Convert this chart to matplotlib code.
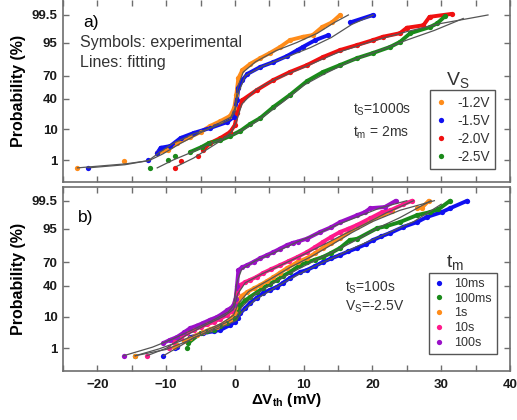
from statistics import NormalDist
import numpy as np
import matplotlib
matplotlib.use("Agg")
import matplotlib.pyplot as plt
from matplotlib.ticker import FixedLocator, MultipleLocator, NullLocator

plt.rcParams['font.family'] = ['Liberation Sans', 'DejaVu Sans']
plt.rcParams['mathtext.default'] = 'regular'

# ---------------- panel a) : t_S = 1000 s, t_m = 2 ms, several V_S ----------------
a_labels = ['-1.2V', '-1.5V', '-2.0V', '-2.5V']
a_colors = ['#FF8C1A', '#1010F0', '#F01010', '#1A8A1A']

a_x = [
    [-22.9, -16.2, -11.3, -9.8, -8.4, -6.5, -5.0, -3.6, -2.1, -0.7, -0.1, 0.2, 0.5, 1.1, 2.2, 3.7,
     5.1, 6.6, 8.0, 9.9, 11.3, 12.7, 14.1, 15.3],
    [-21.4, -12.6, -11.3, -10.8, -9.4, -7.9, -6.0, -3.6, -1.1, -0.2, 0.3, 0.5, 1.1, 1.8, 3.7, 5.6,
     7.6, 9.1, 9.9, 11.7, 13.6, 16.8, 20.1],
    [-8.7, -7.9, -5.3, -4.6, -3.6, -2.1, -0.7, 0.0, 0.3, 1.1, 3.2, 5.6, 8.0, 10.5, 12.8, 15.3,
     17.8, 20.1, 21.5, 24.0, 25.0, 27.4, 28.3, 31.5],
    [-12.4, -9.8, -8.7, -6.5, -4.8, -3.8, -2.1, -0.7, 0.8, 2.2, 3.7, 5.6, 8.0, 10.5, 12.8, 15.3,
     17.8, 20.1, 22.6, 24.0, 25.5, 28.4, 29.4, 30.6],
]
a_p = [
    [0.48, 0.95, 1.85, 2.36, 4.0, 6.1, 8.4, 12.0, 15.7, 20.2, 28.6, 45, 67, 76.4, 82.1, 86.9,
     90.2, 93.3, 95.8, 96.7, 97.1, 98.5, 99.0, 99.5],
    [0.48, 1.0, 1.85, 2.8, 3.2, 5.7, 7.9, 10.7, 14.9, 19.2, 38.4, 54.4, 64.8, 72, 79.4, 83.8,
     88.3, 91.8, 93.3, 95.8, 97.1, 99.0, 99.5],
    [0.48, 0.92, 1.43, 2.36, 4.0, 5.7, 8.4, 12.7, 23.1, 38.4, 51.7, 64.8, 74.2, 81.2, 87.6, 91.8,
     94.1, 95.8, 96.7, 97.5, 98.4, 98.7, 99.4, 99.55],
    [0.48, 1.0, 1.43, 2.0, 3.0, 4.0, 4.9, 6.5, 9.0, 13.4, 18.3, 29.7, 45, 63.5, 74.2, 81.2,
     86.9, 90.2, 93.3, 95.2, 97.5, 98.5, 98.9, 99.45],
]
# fitting lines
a_fit_x = [
    [-22.9, -16, -12.5, -10.5, -8, -5, -2.5, -0.6, 0, 0.4, 1.2, 3, 6, 9, 12, 14.5, 16.5],
    [-21.4, -16, -12.6, -11, -9, -6, -3, -0.8, 0, 0.4, 1.5, 4, 8, 11, 14, 17, 20.1],
    [-8.5, -6, -4, -2, -0.5, 0.2, 1, 3, 6, 10, 15, 20, 25, 30, 34, 36.8],
    [-11.3, -9, -6, -3, 0, 2, 4, 7, 10, 13, 17, 21, 25, 29, 33.2],
]
a_fit_p = [
    [0.48, 0.7, 0.95, 1.7, 3.8, 8, 13.5, 19, 28, 55, 74, 84, 91.5, 95, 97.5, 99.0, 99.5],
    [0.48, 0.65, 0.95, 1.9, 3.9, 7.5, 11.5, 16.5, 24, 45, 70, 80, 88.5, 93, 96.5, 98.8, 99.5],
    [0.55, 1.2, 2.5, 4.8, 8.5, 15, 33, 52, 66, 79, 90.5, 95.5, 97.8, 98.9, 99.3, 99.5],
    [0.48, 1.0, 2.1, 4.3, 7.5, 11.5, 19, 36, 58, 72, 85, 91.5, 95.8, 98.0, 99.3],
]

# ---------------- panel b) : t_S = 100 s, V_S = -2.5 V, several t_m ----------------
b_labels = ['10ms', '100ms', '1s', '10s', '100s']
b_colors = ['#1010F0', '#1A8A1A', '#FF8C1A', '#FF1A8C', '#9A10C8']

b_x = [
    [-10.4, -8.7, -8.4, -6.5, -4.6, -3.1, -2.1, -0.7, 0.0, 0.4, 0.8, 1.5, 2.2, 3.2, 4.1, 5.1, 6.1,
     7.0, 8.0, 9.5, 10.5, 11.6, 12.8, 14.0, 15.3, 16.5, 17.8, 19.0, 20.1, 21.3, 22.6, 24.5, 26.5,
     27.9, 30.1, 31.3, 33.8],
    [-14.5, -6.9, -6.8, -5.0, -4.0, -3.1, -2.1, -1.1, 0.0, 0.4, 0.8, 1.5, 2.2, 3.2, 4.1, 5.1, 6.1,
     7.0, 8.0, 9.5, 10.5, 11.6, 12.8, 14.0, 15.3, 16.7, 17.8, 20.7, 22.0, 24.0, 26.5, 28.4, 29.6,
     31.3],
    [-14.5, -8.9, -8.4, -7.4, -6.5, -5.5, -4.6, -3.6, -2.6, -1.6, -0.7, 0.0, 0.5, 1.0, 1.8, 2.8,
     3.7, 4.7, 5.6, 6.6, 7.6, 9.1, 10.5, 11.6, 12.8, 14.0, 15.3, 17.8, 19.7, 21.6, 22.8, 26.5,
     27.2, 28.2],
    [-12.8, -9.6, -8.9, -7.9, -6.9, -6.0, -5.0, -4.0, -3.1, -2.1, -1.1, -0.4, 0.0, 0.3, 0.8, 1.5,
     2.2, 3.2, 4.1, 5.3, 6.6, 7.8, 9.1, 10.5, 11.6, 12.8, 14.0, 15.3, 16.5, 17.8, 19.7, 21.4, 22.6,
     24.5, 25.8],
    [-16.2, -10.4, -9.5, -8.4, -7.4, -6.5, -5.5, -4.6, -3.6, -2.6, -1.8, -1.1, -0.5, -0.2, 0.1,
     0.3, 0.5, 1.0, 1.8, 2.8, 3.7, 4.7, 5.6, 6.6, 7.6, 8.4, 9.1, 10.5, 12.4, 14.0, 15.3, 17.8,
     18.9, 19.7, 21.8, 23.4],
]
b_p = [
    [0.5, 1.0, 1.1, 2.5, 3.4, 3.9, 4.3, 6.0, 7.3, 9.5, 12.4, 16, 20.5, 26, 31.2, 35, 38.6, 44, 50.4,
     58.2, 60.8, 65.5, 70.5, 74.5, 78, 81.3, 84.3, 87, 89.8, 91.8, 93.4, 95.6, 96.9, 97.9, 98.6,
     99.0, 99.5],
    [0.5, 1.0, 1.57, 3.4, 3.9, 4.3, 5.5, 6.9, 9.3, 13, 18.7, 23, 26.7, 32, 37.3, 42.5, 47.7, 53,
     58.2, 67, 70, 73, 76, 80, 84.3, 89.8, 90.5, 95.2, 95.8, 96.9, 98.2, 98.6, 98.9, 99.5],
    [0.5, 1.1, 1.33, 1.8, 2.36, 3.0, 3.7, 4.5, 5.3, 6.7, 8.3, 12.4, 23.5, 28, 32.4, 37, 41.1, 46.5,
     51.6, 57.5, 63.3, 70.5, 74.9, 79.5, 84.3, 87.8, 90.9, 95.6, 97.3, 98.3, 98.7, 99.0, 99.05,
     99.5],
    [0.5, 1.0, 1.7, 2.4, 3.4, 4.3, 5.3, 6.3, 7.3, 9, 11.1, 14, 20.6, 31.2, 41.1, 45, 47.7, 52, 56.9,
     62, 67, 71.5, 76, 80.8, 84.8, 88.6, 91.5, 93.8, 95, 96.2, 97.7, 98.6, 98.8, 99.3, 99.5],
    [0.5, 1.57, 2.0, 2.56, 3.6, 4.9, 5.8, 6.9, 8.4, 9.9, 12, 14.6, 16.5, 18.7, 25, 40, 60.5, 64, 67,
     71, 74.9, 78, 80.8, 83.8, 86.5, 88, 88.8, 90.6, 93.8, 95.5, 96.9, 98.2, 98.6, 99.0, 99.1,
     99.5],
]
b_fit_x = [
    [-10.4, -8, -6, -3, -1, 0.2, 1, 3, 6, 9, 12, 15, 18, 22, 26, 30],
    [-14.5, -10, -7, -4, -1, 0.2, 1, 3, 6, 9, 12, 15, 18, 21, 24, 28.5],
    [-14.5, -11, -8, -5, -2, -0.2, 0.5, 2, 5, 8, 11, 14, 17, 20, 24, 29],
    [-12.8, -10, -7, -4, -1.5, -0.2, 0.4, 1.5, 4, 7, 10, 13, 16, 19, 22, 26],
    [-16.2, -12, -9, -6, -3, -1, -0.2, 0.3, 1, 3, 6, 9, 12, 15, 18, 21, 25],
]
b_fit_p = [
    [0.5, 1.2, 2.4, 4.3, 6.3, 8, 13, 24, 38.5, 54, 67, 77.5, 86, 93, 97, 99.3],
    [0.5, 0.9, 1.8, 3.8, 7.5, 10, 17, 30, 46, 61, 73.5, 83, 90.5, 95.5, 97.8, 99.5],
    [0.5, 0.95, 1.8, 3.5, 6.6, 11, 20, 33, 48, 64, 76, 86.5, 93.5, 97, 98.8, 99.5],
    [0.5, 1.0, 3, 6.3, 10.5, 15, 30, 44, 56, 68, 78.5, 87, 93, 96.5, 98.5, 99.5],
    [0.5, 1.1, 2.2, 4.5, 8.5, 13, 18, 45, 62, 72, 81, 88.5, 93, 96.3, 98, 99, 99.5],
]

prob_ticks = [1, 10, 40, 70, 95, 99.5]
prob_ticklabels = ['1', '10', '40', '70', '95', '99.5']

# normal probability scale (percent)
_nd = NormalDist()
_ppf = np.vectorize(_nd.inv_cdf, otypes=[float])
_cdf = np.vectorize(_nd.cdf, otypes=[float])


def to_z(p):
    p = np.clip(np.asarray(p, dtype=float) / 100.0, 1e-9, 1 - 1e-9)
    return _ppf(p)


def from_z(z):
    return _cdf(np.asarray(z, dtype=float)) * 100.0


SPINE = '#6E6E6E'


def style_axis(ax, ylim, show_xlabels):
    ax.set_yscale('function', functions=(to_z, from_z))
    ax.set_xlim(-25, 40)
    ax.set_ylim(*ylim)
    ax.yaxis.set_major_locator(FixedLocator(prob_ticks))
    ax.set_yticklabels(prob_ticklabels)
    ax.yaxis.set_minor_locator(NullLocator())
    ax.xaxis.set_major_locator(MultipleLocator(10))
    ax.xaxis.set_minor_locator(MultipleLocator(5))
    for s in ax.spines.values():
        s.set_color(SPINE)
        s.set_linewidth(1.2)
    ax.tick_params(which='both', direction='in', top=True, right=True, color=SPINE,
                   width=1.0, labelsize=9.5, labelcolor='#1a1a1a')
    ax.tick_params(which='major', length=4)
    ax.tick_params(which='minor', length=4)
    ax.tick_params(axis='y', pad=4)
    ax.tick_params(axis='x', pad=6, labelbottom=show_xlabels)
    for lab in ax.get_xticklabels() + ax.get_yticklabels():
        lab.set_fontweight('bold')
    ax.set_ylabel('Probability (%)', fontsize=11.5, fontweight='bold', labelpad=4)


def draw_series(ax, xs, ps, color, label):
    # dense runs of symbols are drawn as a thick band, sparse tail symbols stay separate
    xs = np.asarray(xs, float)
    ps = np.asarray(ps, float)
    pts = ax.transData.transform(np.column_stack([xs, ps]))
    gaps = np.hypot(*np.diff(pts, axis=0).T)
    joined = (gaps < 24) & (ps[:-1] >= 1.5)
    for i in np.flatnonzero(joined):
        ax.plot(xs[i:i + 2], ps[i:i + 2], color=color, lw=2.8,
                solid_capstyle='round', zorder=2)
    ax.plot(xs, ps, 'o', color=color, ms=3.8, mew=0, zorder=3, label=label)


def draw_fit(ax, xs, ps):
    ax.plot(xs, ps, color='#555555', lw=0.9, zorder=4)


fig = plt.figure(figsize=(5.17, 4.2), dpi=100)
ax_a = fig.add_axes([63 / 517, 1 - 182 / 420, 447 / 517, 182 / 420])
ax_b = fig.add_axes([63 / 517, 1 - 371 / 420, 447 / 517, 184 / 420])

style_axis(ax_a, (0.108, 99.897), False)
style_axis(ax_b, (0.1028, 99.878), True)
ax_a.spines['top'].set_visible(False)
ax_b.set_xlabel('ΔV$_{th}$ (mV)', fontsize=11, fontweight='bold', labelpad=0)

for xs, ps, c, lab in zip(a_x, a_p, a_colors, a_labels):
    draw_series(ax_a, xs, ps, c, lab)
for xs, ps in zip(a_fit_x, a_fit_p):
    draw_fit(ax_a, xs, ps)

for xs, ps, c, lab in zip(b_x, b_p, b_colors, b_labels):
    draw_series(ax_b, xs, ps, c, lab)
for xs, ps in zip(b_fit_x, b_fit_p):
    draw_fit(ax_b, xs, ps)

# annotations panel a
ax_a.text(0.045, 0.879, 'a)', transform=ax_a.transAxes, fontsize=12.5, va='center')
ax_a.text(0.038, 0.764, 'Symbols: experimental', transform=ax_a.transAxes, fontsize=11.5,
          va='center', color='#333333')
ax_a.text(0.038, 0.654, 'Lines: fitting', transform=ax_a.transAxes, fontsize=11.5,
          va='center', color='#333333')
ax_a.text(0.649, 0.396, 't$_S$=1000s', transform=ax_a.transAxes, fontsize=10, va='center',
          color='#333333')
ax_a.text(0.649, 0.269, 't$_m$ = 2ms', transform=ax_a.transAxes, fontsize=10, va='center',
          color='#333333')
ax_a.text(0.884, 0.56, 'V$_S$', transform=ax_a.transAxes, fontsize=14, ha='center',
          va='center', color='#333333')

# annotations panel b
ax_b.text(0.034, 0.832, 'b)', transform=ax_b.transAxes, fontsize=12.5, va='center')
ax_b.text(0.631, 0.451, 't$_S$=100s', transform=ax_b.transAxes, fontsize=10, va='center',
          color='#333333')
ax_b.text(0.631, 0.348, 'V$_S$=-2.5V', transform=ax_b.transAxes, fontsize=10, va='center',
          color='#333333')
ax_b.text(0.877, 0.587, 't$_m$', transform=ax_b.transAxes, fontsize=14, ha='center',
          va='center', color='#333333')

leg_kw = dict(loc='upper left', borderaxespad=0, numpoints=1, handlelength=0.8,
              handletextpad=0.8, fancybox=False, edgecolor='#555555', framealpha=1,
              borderpad=0.4)
la = ax_a.legend(bbox_to_anchor=(0.821, 0.505), fontsize=9.8, labelspacing=0.3, **leg_kw)
lb = ax_b.legend(bbox_to_anchor=(0.819, 0.533), fontsize=9, labelspacing=0.22, **leg_kw)
for leg in (la, lb):
    leg.get_frame().set_linewidth(1.0)
    for t in leg.get_texts():
        t.set_color('#333333')

fig.savefig('out.png', dpi=100)
